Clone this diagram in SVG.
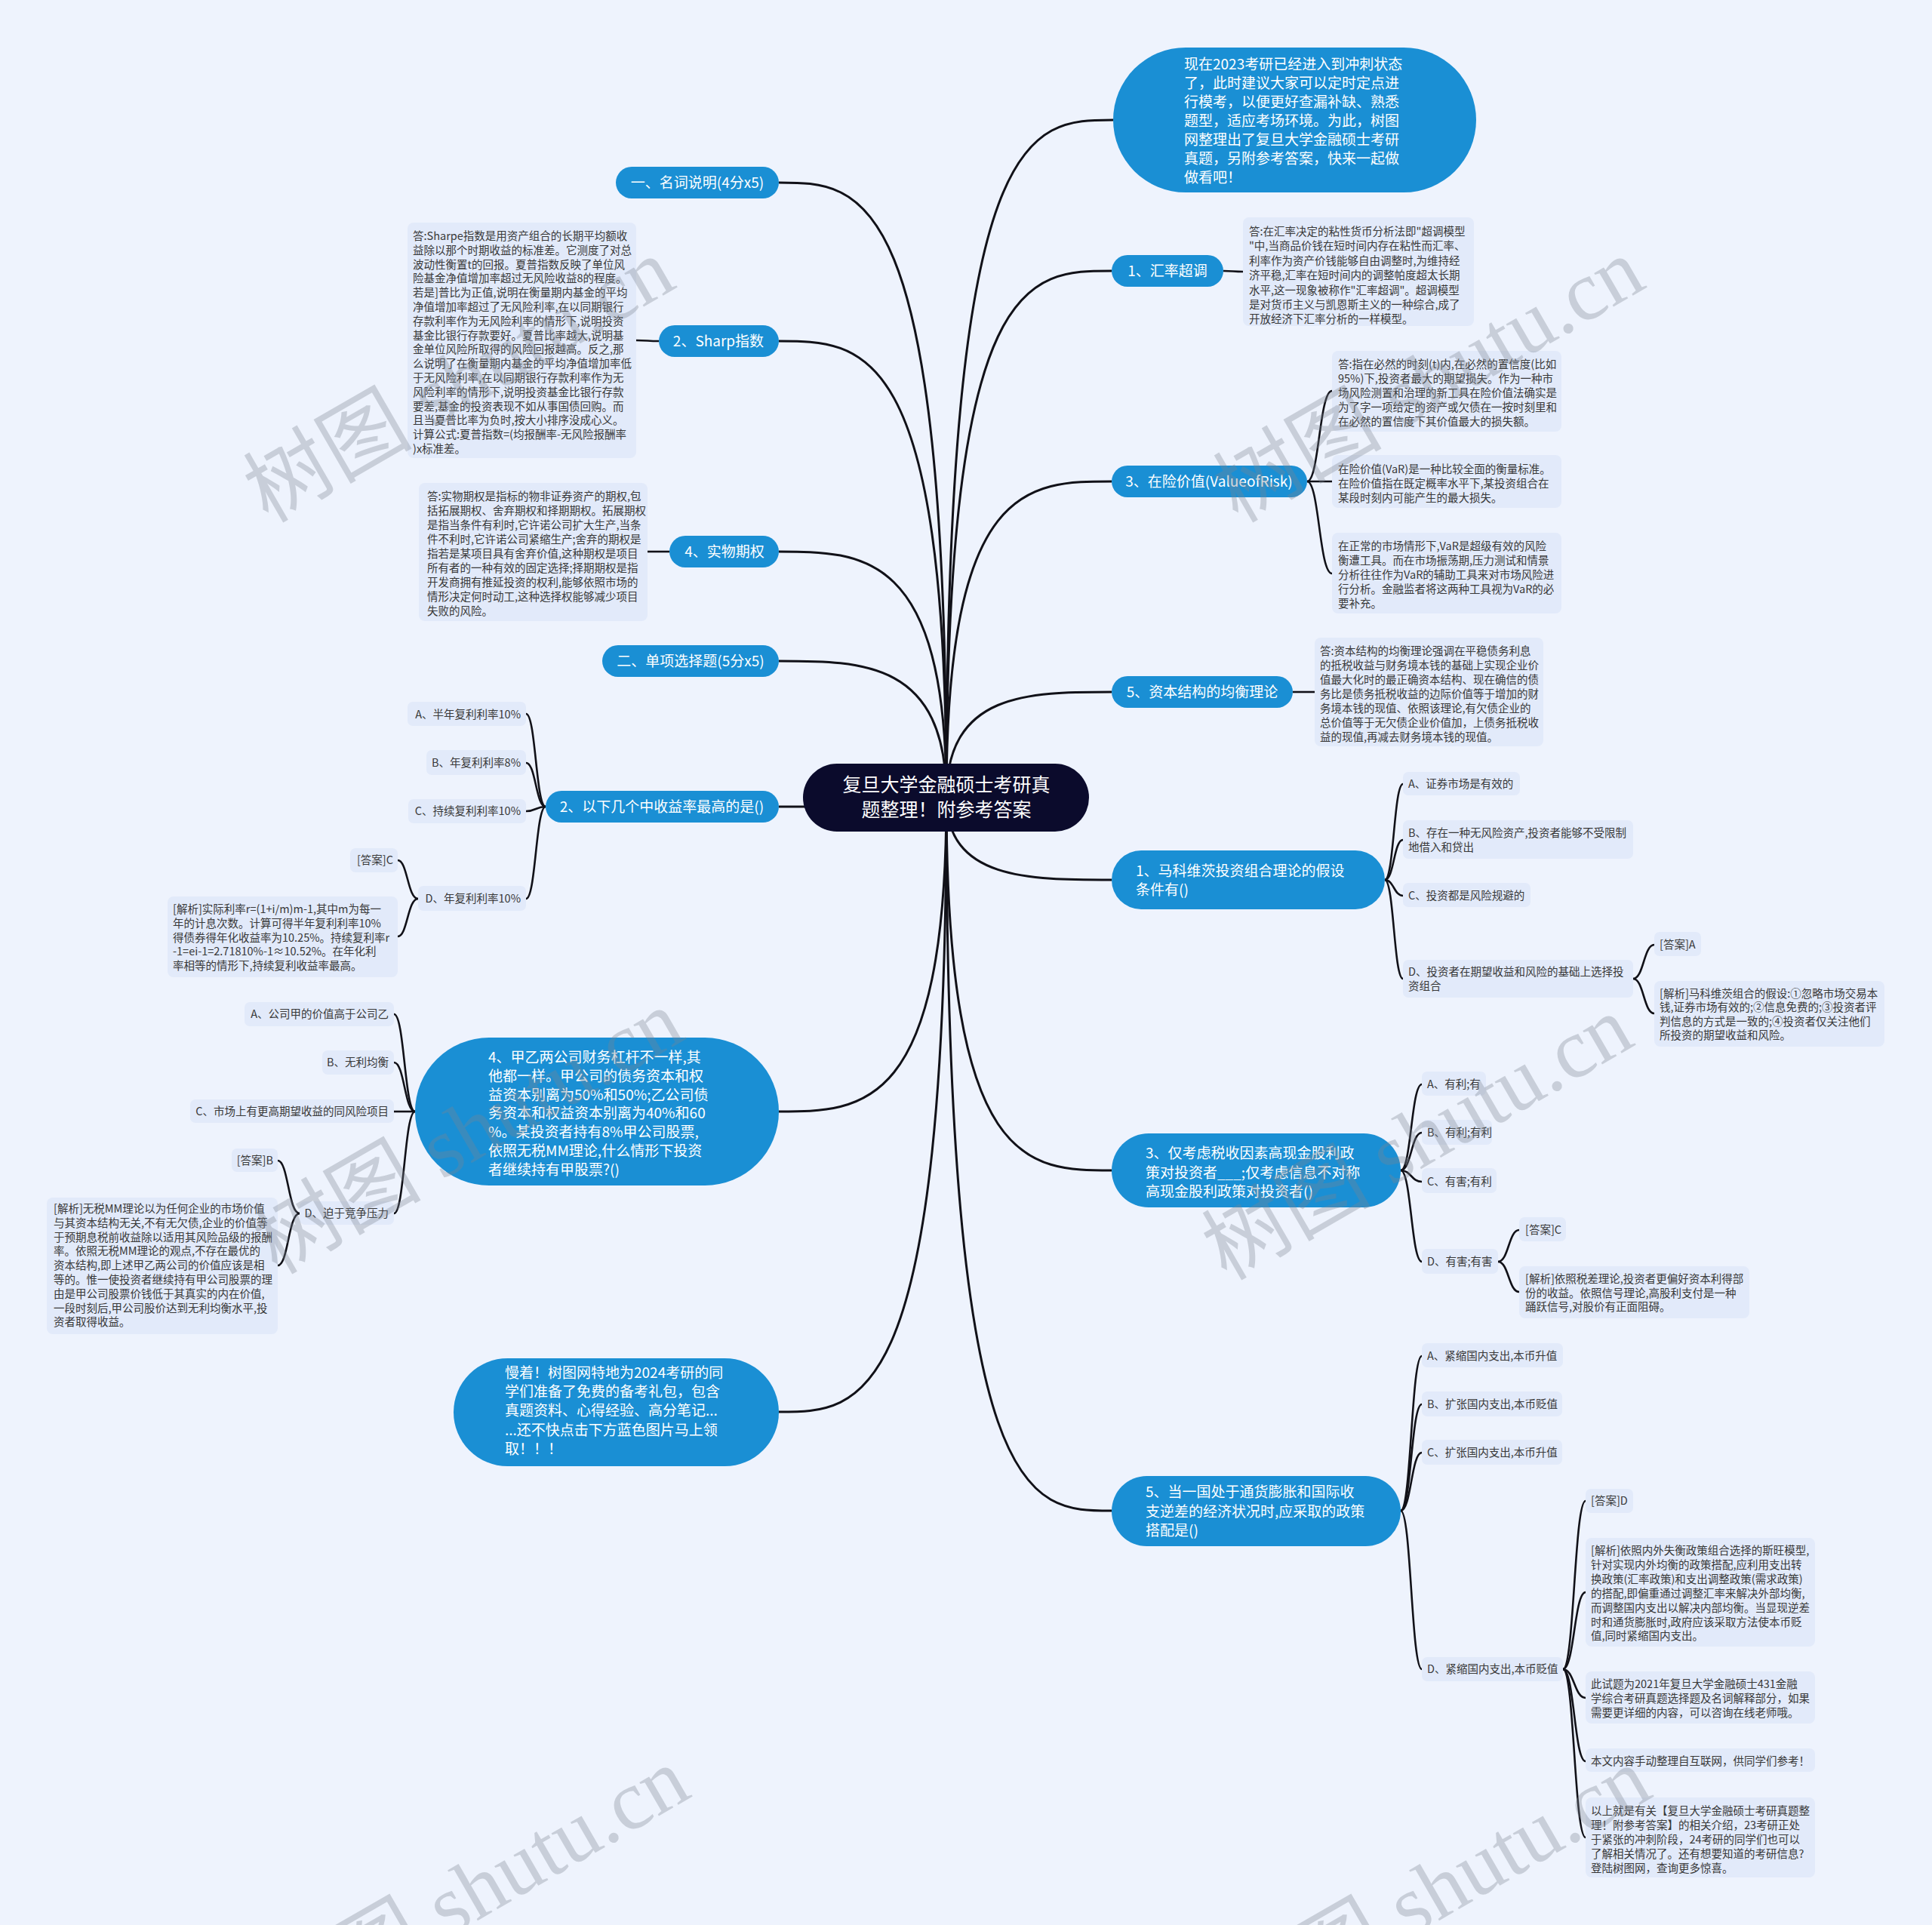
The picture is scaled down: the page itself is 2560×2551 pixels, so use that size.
<svg xmlns="http://www.w3.org/2000/svg" width="2560" height="2551" viewBox="0 0 2560 2551">
<style>
.bg{fill:#eef3fd}
.bn{fill:#1a8fd4}
.cn{fill:#0b0b2c}
.bx{fill:#e2eafa}
text{font-family:"Noto Sans CJK SC","Noto Sans",sans-serif}
.tw{fill:#ffffff;font-size:19px}
.tc{fill:#ffffff;font-size:25px}
.ts{fill:#383838;font-size:14.5px}
.mid{text-anchor:middle}
.end{text-anchor:end}
.c1{fill:none;stroke:#111118;stroke-width:3}
.c2{fill:none;stroke:#111118;stroke-width:2.6}
.wm{font-family:"Liberation Serif","Noto Sans CJK SC",serif;font-size:112px;fill:#7d8591;opacity:0.33}
</style>
<rect class="bg" x="0" y="0" width="2560" height="2551"/>
<g id="connectors">
<path class="c1" d="M1254,1057 C1254,159 1364,159 1475,159"/>
<path class="c1" d="M1254,1057 C1254,359 1363,359 1473,359"/>
<path class="c1" d="M1254,1057 C1254,638 1363,638 1473,638"/>
<path class="c1" d="M1254,1057 C1254,917 1363,917 1473,917"/>
<path class="c1" d="M1254,1057 C1254,1166 1363,1166 1473,1166"/>
<path class="c1" d="M1254,1057 C1254,1551 1363,1551 1473,1551"/>
<path class="c1" d="M1254,1057 C1254,2002 1363,2002 1473,2002"/>
<path class="c1" d="M1254,1057 C1254,242 1143,242 1032,242"/>
<path class="c1" d="M1254,1057 C1254,452 1143,452 1032,452"/>
<path class="c1" d="M1254,1057 C1254,731 1143,731 1032,731"/>
<path class="c1" d="M1254,1057 C1254,876 1143,876 1032,876"/>
<path class="c1" d="M1254,1057 C1254,1069 1143,1069 1032,1069"/>
<path class="c1" d="M1254,1057 C1254,1473 1143,1473 1032,1473"/>
<path class="c1" d="M1254,1057 C1254,1871 1143,1871 1032,1871"/>
<path class="c2" d="M873,452 C858,452 858,451 843,451"/>
<path class="c2" d="M887,731 C872,731 872,731 858,731"/>
<path class="c2" d="M1621,359 C1634,359 1634,360 1647,360"/>
<path class="c2" d="M1732,638 C1748,638 1748,518 1765,518"/>
<path class="c2" d="M1732,638 C1748,638 1748,638 1765,638"/>
<path class="c2" d="M1732,638 C1748,638 1748,760 1765,760"/>
<path class="c2" d="M1713,917 C1727,917 1727,917 1742,917"/>
<path class="c2" d="M723,1069 C710,1069 710,946 697,946"/>
<path class="c2" d="M723,1069 C710,1069 710,1011 697,1011"/>
<path class="c2" d="M723,1069 C710,1069 710,1075 697,1075"/>
<path class="c2" d="M723,1069 C710,1069 710,1191 697,1191"/>
<path class="c2" d="M554,1191 C540,1191 540,1140 527,1140"/>
<path class="c2" d="M554,1191 C540,1191 540,1241 527,1241"/>
<path class="c2" d="M550,1473 C536,1473 536,1344 522,1344"/>
<path class="c2" d="M550,1473 C536,1473 536,1408 522,1408"/>
<path class="c2" d="M550,1473 C536,1473 536,1473 522,1473"/>
<path class="c2" d="M550,1473 C536,1473 536,1608 522,1608"/>
<path class="c2" d="M397,1608 C382,1608 382,1538 368,1538"/>
<path class="c2" d="M397,1608 C382,1608 382,1677 368,1677"/>
<path class="c2" d="M1835,1166 C1847,1166 1847,1039 1859,1039"/>
<path class="c2" d="M1835,1166 C1847,1166 1847,1113 1859,1113"/>
<path class="c2" d="M1835,1166 C1847,1166 1847,1187 1859,1187"/>
<path class="c2" d="M1835,1166 C1847,1166 1847,1297 1859,1297"/>
<path class="c2" d="M2164,1297 C2178,1297 2178,1252 2192,1252"/>
<path class="c2" d="M2164,1297 C2178,1297 2178,1343 2192,1343"/>
<path class="c2" d="M1856,1551 C1870,1551 1870,1437 1884,1437"/>
<path class="c2" d="M1856,1551 C1870,1551 1870,1501 1884,1501"/>
<path class="c2" d="M1856,1551 C1870,1551 1870,1566 1884,1566"/>
<path class="c2" d="M1856,1551 C1870,1551 1870,1672 1884,1672"/>
<path class="c2" d="M1985,1672 C1999,1672 1999,1630 2013,1630"/>
<path class="c2" d="M1985,1672 C1999,1672 1999,1712 2013,1712"/>
<path class="c2" d="M1856,2002 C1870,2002 1870,1797 1884,1797"/>
<path class="c2" d="M1856,2002 C1870,2002 1870,1861 1884,1861"/>
<path class="c2" d="M1856,2002 C1870,2002 1870,1925 1884,1925"/>
<path class="c2" d="M1856,2002 C1870,2002 1870,2212 1884,2212"/>
<path class="c2" d="M2071,2212 C2086,2212 2086,1989 2101,1989"/>
<path class="c2" d="M2071,2212 C2086,2212 2086,2110 2101,2110"/>
<path class="c2" d="M2071,2212 C2086,2212 2086,2250 2101,2250"/>
<path class="c2" d="M2071,2212 C2086,2212 2086,2334 2101,2334"/>
<path class="c2" d="M2071,2212 C2086,2212 2086,2435 2101,2435"/>
</g>
<g id="center">
<rect class="cn" x="1064" y="1012" width="379" height="90" rx="45"/>
<text class="tc mid" x="1254" y="1049">复旦大学金融硕士考研真</text>
<text class="tc mid" x="1254" y="1082">题整理！附参考答案</text>
</g>
<g id="intro">
<rect class="bn" x="1475" y="63" width="481" height="192" rx="96"/>
<text class="tw" x="1569" y="92"><tspan x="1569">现在2023考研已经进入到冲刺状态</tspan><tspan x="1569" dy="25">了，此时建议大家可以定时定点进</tspan><tspan x="1569" dy="25">行模考，以便更好查漏补缺、熟悉</tspan><tspan x="1569" dy="25">题型，适应考场环境。为此，树图</tspan><tspan x="1569" dy="25">网整理出了复旦大学金融硕士考研</tspan><tspan x="1569" dy="25">真题，另附参考答案，快来一起做</tspan><tspan x="1569" dy="25">做看吧！</tspan></text>
</g>
<g id="mingci">
<rect class="bn" x="816" y="221" width="216" height="42" rx="21"/>
<text class="tw mid" x="924" y="249">一、名词说明(4分x5)</text>
</g>
<g id="sharp">
<rect class="bn" x="873" y="431" width="159" height="42" rx="21"/>
<text class="tw mid" x="952" y="459">2、Sharp指数</text>
</g>
<g id="sharp-ans">
<rect class="bx" x="540" y="295" width="303" height="312" rx="8"/>
<text class="ts" x="547" y="318"><tspan x="547">答:Sharpe指数是用资产组合的长期平均额收</tspan><tspan x="547" dy="18.8">益除以那个时期收益的标准差。它测度了对总</tspan><tspan x="547" dy="18.8">波动性衡置t的回报。夏普指数反映了单位风</tspan><tspan x="547" dy="18.8">险基金净值增加率超过无风险收益8的程度。</tspan><tspan x="547" dy="18.8">若是]普比为正值,说明在衡量期内基金的平均</tspan><tspan x="547" dy="18.8">净值增加率超过了无风险利率,在以同期银行</tspan><tspan x="547" dy="18.8">存款利率作为无风险利率的情形下,说明投资</tspan><tspan x="547" dy="18.8">基金比银行存款要好。夏普比率越大,说明基</tspan><tspan x="547" dy="18.8">金单位风险所取得的风险回报越高。反之,那</tspan><tspan x="547" dy="18.8">么说明了在衡量期内基金的平均净值增加率低</tspan><tspan x="547" dy="18.8">于无风险利率,在以同期银行存款利率作为无</tspan><tspan x="547" dy="18.8">风险利率的情形下,说明投资基金比银行存款</tspan><tspan x="547" dy="18.8">要差,基金的投资表现不如从事国债回购。而</tspan><tspan x="547" dy="18.8">且当夏普比率为负时,按大小排序没成心义。</tspan><tspan x="547" dy="18.8">计算公式:夏普指数=(均报酬率-无风险报酬率</tspan><tspan x="547" dy="18.8">)x标准差。</tspan></text>
</g>
<g id="shiwu">
<rect class="bn" x="887" y="710" width="145" height="42" rx="21"/>
<text class="tw mid" x="960" y="738">4、实物期权</text>
</g>
<g id="shiwu-ans">
<rect class="bx" x="555" y="640" width="303" height="183" rx="8"/>
<text class="ts" x="566" y="663"><tspan x="566">答:实物期权是指标的物非证券资产的期权,包</tspan><tspan x="566" dy="19">括拓展期权、舍弃期权和择期期权。拓展期权</tspan><tspan x="566" dy="19">是指当条件有利时,它许诺公司扩大生产,当条</tspan><tspan x="566" dy="19">件不利时,它许诺公司紧缩生产;舍弃的期权是</tspan><tspan x="566" dy="19">指若是某项目具有舍弃价值,这种期权是项目</tspan><tspan x="566" dy="19">所有者的一种有效的固定选择;择期期权是指</tspan><tspan x="566" dy="19">开发商拥有推延投资的权利,能够依照市场的</tspan><tspan x="566" dy="19">情形决定何时动工,这种选择权能够减少项目</tspan><tspan x="566" dy="19">失败的风险。</tspan></text>
</g>
<g id="danxiang">
<rect class="bn" x="798" y="855" width="234" height="42" rx="21"/>
<text class="tw mid" x="915" y="883">二、单项选择题(5分x5)</text>
</g>
<g id="q2">
<rect class="bn" x="723" y="1048" width="309" height="42" rx="21"/>
<text class="tw mid" x="877" y="1076">2、以下几个中收益率最高的是()</text>
</g>
<g id="q2-opts">
<rect class="bx" x="540" y="930" width="157" height="32" rx="7"/>
<text class="ts end" x="690" y="952">A、半年复利利率10%</text>
<rect class="bx" x="565" y="994" width="132" height="33" rx="7"/>
<text class="ts end" x="690" y="1016">B、年复利利率8%</text>
<rect class="bx" x="541" y="1059" width="156" height="32" rx="7"/>
<text class="ts end" x="690" y="1080">C、持续复利利率10%</text>
<rect class="bx" x="554" y="1174" width="143" height="33" rx="7"/>
<text class="ts end" x="690" y="1196">D、年复利利率10%</text>
<rect class="bx" x="464" y="1124" width="63" height="32" rx="7"/>
<text class="ts end" x="521" y="1145">[答案]C</text>
<rect class="bx" x="222" y="1188" width="305" height="107" rx="8"/>
<text class="ts" x="229" y="1210"><tspan x="229">[解析]实际利率r=(1+i/m)m-1,其中m为每一</tspan><tspan x="229" dy="18.8">年的计息次数。计算可得半年复利利率10%</tspan><tspan x="229" dy="18.8">得债券得年化收益率为10.25%。持续复利率r</tspan><tspan x="229" dy="18.8">-1=ei-1=2.71810%-1≈10.52%。在年化利</tspan><tspan x="229" dy="18.8">率相等的情形下,持续复利收益率最高。</tspan></text>
</g>
<g id="q4">
<rect class="bn" x="550" y="1375" width="482" height="196" rx="98"/>
<text class="tw" x="647" y="1408"><tspan x="647">4、甲乙两公司财务杠杆不一样,其</tspan><tspan x="647" dy="24.8">他都一样。甲公司的债务资本和权</tspan><tspan x="647" dy="24.8">益资本别离为50%和50%;乙公司债</tspan><tspan x="647" dy="24.8">务资本和权益资本别离为40%和60</tspan><tspan x="647" dy="24.8">%。某投资者持有8%甲公司股票,</tspan><tspan x="647" dy="24.8">依照无税MM理论,什么情形下投资</tspan><tspan x="647" dy="24.8">者继续持有甲股票?()</tspan></text>
</g>
<g id="q4-opts">
<rect class="bx" x="324" y="1328" width="198" height="32" rx="7"/>
<text class="ts end" x="515" y="1349">A、公司甲的价值高于公司乙</text>
<rect class="bx" x="427" y="1392" width="95" height="32" rx="7"/>
<text class="ts end" x="515" y="1413">B、无利均衡</text>
<rect class="bx" x="252" y="1457" width="270" height="31" rx="7"/>
<text class="ts end" x="515" y="1478">C、市场上有更高期望收益的同风险项目</text>
<rect class="bx" x="397" y="1592" width="125" height="31" rx="7"/>
<text class="ts end" x="515" y="1613">D、迫于竞争压力</text>
<rect class="bx" x="307" y="1522" width="61" height="31" rx="7"/>
<text class="ts end" x="362" y="1543">[答案]B</text>
<rect class="bx" x="62" y="1587" width="306" height="181" rx="8"/>
<text class="ts" x="71" y="1607"><tspan x="71">[解析]无税MM理论以为任何企业的市场价值</tspan><tspan x="71" dy="18.8">与其资本结构无关,不有无欠债,企业的价值等</tspan><tspan x="71" dy="18.8">于预期息税前收益除以适用其风险品级的报酬</tspan><tspan x="71" dy="18.8">率。依照无税MM理论的观点,不存在最优的</tspan><tspan x="71" dy="18.8">资本结构,即上述甲乙两公司的价值应该是相</tspan><tspan x="71" dy="18.8">等的。惟一使投资者继续持有甲公司股票的理</tspan><tspan x="71" dy="18.8">由是甲公司股票价钱低于其真实的内在价值,</tspan><tspan x="71" dy="18.8">一段时刻后,甲公司股价达到无利均衡水平,投</tspan><tspan x="71" dy="18.8">资者取得收益。</tspan></text>
</g>
<g id="promo">
<rect class="bn" x="601" y="1800" width="431" height="143" rx="71.5"/>
<text class="tw" x="669" y="1826"><tspan x="669">慢着！树图网特地为2024考研的同</tspan><tspan x="669" dy="25.2">学们准备了免费的备考礼包，包含</tspan><tspan x="669" dy="25.2">真题资料、心得经验、高分笔记...</tspan><tspan x="669" dy="25.2">...还不快点击下方蓝色图片马上领</tspan><tspan x="669" dy="25.2">取！！！</tspan></text>
</g>
<g id="huilv">
<rect class="bn" x="1473" y="338" width="148" height="42" rx="21"/>
<text class="tw mid" x="1547" y="366">1、汇率超调</text>
</g>
<g id="huilv-ans">
<rect class="bx" x="1647" y="288" width="306" height="144" rx="8"/>
<text class="ts" x="1655" y="312"><tspan x="1655">答:在汇率决定的粘性货币分析法即"超调模型</tspan><tspan x="1655" dy="19.4">"中,当商品价钱在短时间内存在粘性而汇率、</tspan><tspan x="1655" dy="19.4">利率作为资产价钱能够自由调整时,为维持经</tspan><tspan x="1655" dy="19.4">济平稳,汇率在短时间内的调整帕度超太长期</tspan><tspan x="1655" dy="19.4">水平,这一现象被称作"汇率超调"。超调模型</tspan><tspan x="1655" dy="19.4">是对货币主义与凯恩斯主义的一种综合,成了</tspan><tspan x="1655" dy="19.4">开放经济下汇率分析的一样模型。</tspan></text>
</g>
<g id="var">
<rect class="bn" x="1473" y="617" width="259" height="42" rx="21"/>
<text class="tw mid" x="1602" y="645">3、在险价值(ValueofRisk)</text>
</g>
<g id="var-ans">
<rect class="bx" x="1765" y="465" width="304" height="107" rx="8"/>
<text class="ts" x="1773" y="488"><tspan x="1773">答:指在必然的时刻(t)内,在必然的置信度(比如</tspan><tspan x="1773" dy="19">95%)下,投资者最大的期望损失。作为一种市</tspan><tspan x="1773" dy="19">场风险测置和治理的新工具在险价值法确实是</tspan><tspan x="1773" dy="19">为了字一项给定的资产或欠债在一按时刻里和</tspan><tspan x="1773" dy="19">在必然的置信度下其价值最大的损失额。</tspan></text>
<rect class="bx" x="1765" y="603" width="304" height="70" rx="8"/>
<text class="ts" x="1773" y="627"><tspan x="1773">在险价值(VaR)是一种比较全面的衡量标准。</tspan><tspan x="1773" dy="19">在险价值指在既定概率水平下,某投资组合在</tspan><tspan x="1773" dy="19">某段时刻内可能产生的最大损失。</tspan></text>
<rect class="bx" x="1765" y="706" width="304" height="107" rx="8"/>
<text class="ts" x="1773" y="729"><tspan x="1773">在正常的市场情形下,VaR是超级有效的风险</tspan><tspan x="1773" dy="19">衡遭工具。而在市场振荡期,压力测试和情景</tspan><tspan x="1773" dy="19">分析往往作为VaR的辅助工具来对市场风险进</tspan><tspan x="1773" dy="19">行分析。金融监者将这两种工具视为VaR的必</tspan><tspan x="1773" dy="19">要补充。</tspan></text>
</g>
<g id="ziben">
<rect class="bn" x="1473" y="896" width="240" height="42" rx="21"/>
<text class="tw mid" x="1593" y="924">5、资本结构的均衡理论</text>
</g>
<g id="ziben-ans">
<rect class="bx" x="1742" y="845" width="303" height="144" rx="8"/>
<text class="ts" x="1749" y="868"><tspan x="1749">答:资本结构的均衡理论强调在平稳债务利息</tspan><tspan x="1749" dy="19">的抵税收益与财务境本钱的基础上实现企业价</tspan><tspan x="1749" dy="19">值最大化时的最正确资本结构、现在确信的债</tspan><tspan x="1749" dy="19">务比是债务抵税收益的边际价值等于增加的财</tspan><tspan x="1749" dy="19">务境本钱的现值、依照该理论,有欠债企业的</tspan><tspan x="1749" dy="19">总价值等于无欠债企业价值加，上债务抵税收</tspan><tspan x="1749" dy="19">益的现值,再减去财务境本钱的现值。</tspan></text>
</g>
<g id="q1">
<rect class="bn" x="1473" y="1127" width="362" height="78" rx="39"/>
<text class="tw" x="1505" y="1161"><tspan x="1505">1、马科维茨投资组合理论的假设</tspan><tspan x="1505" dy="25">条件有()</tspan></text>
</g>
<g id="q1-opts">
<rect class="bx" x="1859" y="1023" width="155" height="31" rx="7"/>
<text class="ts" x="1866" y="1044">A、证券市场是有效的</text>
<rect class="bx" x="1859" y="1087" width="305" height="51" rx="7"/>
<text class="ts" x="1866" y="1109"><tspan x="1866">B、存在一种无风险资产,投资者能够不受限制</tspan><tspan x="1866" dy="18.5">地借入和贷出</tspan></text>
<rect class="bx" x="1859" y="1170" width="169" height="32" rx="7"/>
<text class="ts" x="1866" y="1192">C、投资都是风险规避的</text>
<rect class="bx" x="1859" y="1272" width="305" height="50" rx="7"/>
<text class="ts" x="1866" y="1293"><tspan x="1866">D、投资者在期望收益和风险的基础上选择投</tspan><tspan x="1866" dy="18.5">资组合</tspan></text>
<rect class="bx" x="2192" y="1235" width="62" height="32" rx="7"/>
<text class="ts" x="2199" y="1257">[答案]A</text>
<rect class="bx" x="2192" y="1300" width="305" height="87" rx="8"/>
<text class="ts" x="2199" y="1322"><tspan x="2199">[解析]马科维茨组合的假设:①忽略市场交易本</tspan><tspan x="2199" dy="18.3">钱,证券市场有效的;②信息免费的;③投资者评</tspan><tspan x="2199" dy="18.3">判信息的方式是一致的;④投资者仅关注他们</tspan><tspan x="2199" dy="18.3">所投资的期望收益和风险。</tspan></text>
</g>
<g id="q3">
<rect class="bn" x="1473" y="1502" width="383" height="98" rx="49"/>
<text class="tw" x="1518" y="1535"><tspan x="1518">3、仅考虑税收因素高现金股利政</tspan><tspan x="1518" dy="25.5">策对投资者___;仅考虑信息不对称</tspan><tspan x="1518" dy="25.5">高现金股利政策对投资者()</tspan></text>
</g>
<g id="q3-opts">
<rect class="bx" x="1884" y="1420" width="85" height="32" rx="7"/>
<text class="ts" x="1891" y="1442">A、有利;有</text>
<rect class="bx" x="1884" y="1484" width="93" height="33" rx="7"/>
<text class="ts" x="1891" y="1506">B、有利;有利</text>
<rect class="bx" x="1884" y="1548" width="99" height="33" rx="7"/>
<text class="ts" x="1891" y="1571">C、有害;有利</text>
<rect class="bx" x="1884" y="1655" width="101" height="33" rx="7"/>
<text class="ts" x="1891" y="1677">D、有害;有害</text>
<rect class="bx" x="2013" y="1613" width="62" height="32" rx="7"/>
<text class="ts" x="2021" y="1635">[答案]C</text>
<rect class="bx" x="2013" y="1678" width="305" height="69" rx="8"/>
<text class="ts" x="2021" y="1700"><tspan x="2021">[解析]依照税差理论,投资者更偏好资本利得部</tspan><tspan x="2021" dy="18.5">份的收益。依照信号理论,高股利支付是一种</tspan><tspan x="2021" dy="18.5">踊跃信号,对股价有正面阻碍。</tspan></text>
</g>
<g id="q5">
<rect class="bn" x="1473" y="1956" width="383" height="93" rx="46.5"/>
<text class="tw" x="1518" y="1984"><tspan x="1518">5、当一国处于通货膨胀和国际收</tspan><tspan x="1518" dy="25.5">支逆差的经济状况时,应采取的政策</tspan><tspan x="1518" dy="25.5">搭配是()</tspan></text>
</g>
<g id="q5-opts">
<rect class="bx" x="1884" y="1780" width="187" height="32" rx="7"/>
<text class="ts" x="1891" y="1802">A、紧缩国内支出,本币升值</text>
<rect class="bx" x="1884" y="1844" width="186" height="33" rx="7"/>
<text class="ts" x="1891" y="1866">B、扩张国内支出,本币贬值</text>
<rect class="bx" x="1884" y="1908" width="186" height="33" rx="7"/>
<text class="ts" x="1891" y="1930">C、扩张国内支出,本币升值</text>
<rect class="bx" x="1884" y="2196" width="187" height="32" rx="7"/>
<text class="ts" x="1891" y="2217">D、紧缩国内支出,本币贬值</text>
<rect class="bx" x="2101" y="1973" width="63" height="32" rx="7"/>
<text class="ts" x="2108" y="1994">[答案]D</text>
<rect class="bx" x="2101" y="2038" width="304" height="144" rx="8"/>
<text class="ts" x="2108" y="2060"><tspan x="2108">[解析]依照内外失衡政策组合选择的斯旺模型,</tspan><tspan x="2108" dy="18.9">针对实现内外均衡的政策搭配,应利用支出转</tspan><tspan x="2108" dy="18.9">换政策(汇率政策)和支出调整政策(需求政策)</tspan><tspan x="2108" dy="18.9">的搭配,即偏重通过调整汇率来解决外部均衡,</tspan><tspan x="2108" dy="18.9">而调整国内支出以解决内部均衡。当显现逆差</tspan><tspan x="2108" dy="18.9">时和通货膨胀时,政府应该采取方法使本币贬</tspan><tspan x="2108" dy="18.9">值,同时紧缩国内支出。</tspan></text>
<rect class="bx" x="2101" y="2215" width="304" height="69" rx="8"/>
<text class="ts" x="2108" y="2237"><tspan x="2108">此试题为2021年复旦大学金融硕士431金融</tspan><tspan x="2108" dy="19">学综合考研真题选择题及名词解释部分，如果</tspan><tspan x="2108" dy="19">需要更详细的内容，可以咨询在线老师哦。</tspan></text>
<rect class="bx" x="2101" y="2317" width="304" height="31" rx="7"/>
<text class="ts" x="2108" y="2339">本文内容手动整理自互联网，供同学们参考！</text>
<rect class="bx" x="2101" y="2382" width="304" height="106" rx="8"/>
<text class="ts" x="2108" y="2405"><tspan x="2108">以上就是有关【复旦大学金融硕士考研真题整</tspan><tspan x="2108" dy="19">理！附参考答案】的相关介绍，23考研正处</tspan><tspan x="2108" dy="19">于紧张的冲刺阶段，24考研的同学们也可以</tspan><tspan x="2108" dy="19">了解相关情况了。还有想要知道的考研信息?</tspan><tspan x="2108" dy="19">登陆树图网，查询更多惊喜。</tspan></text>
</g>
<g id="watermarks">
<text class="wm" transform="translate(355,694) rotate(-30)">树图 shutu.cn</text>
<text class="wm" transform="translate(1640,694) rotate(-30)">树图 shutu.cn</text>
<text class="wm" transform="translate(367,1690) rotate(-30)">树图 shutu.cn</text>
<text class="wm" transform="translate(1625,1698) rotate(-30)">树图 shutu.cn</text>
<text class="wm" transform="translate(375,2694) rotate(-30)">树图 shutu.cn</text>
<text class="wm" transform="translate(1649,2694) rotate(-30)">树图 shutu.cn</text>
</g>
</svg>
